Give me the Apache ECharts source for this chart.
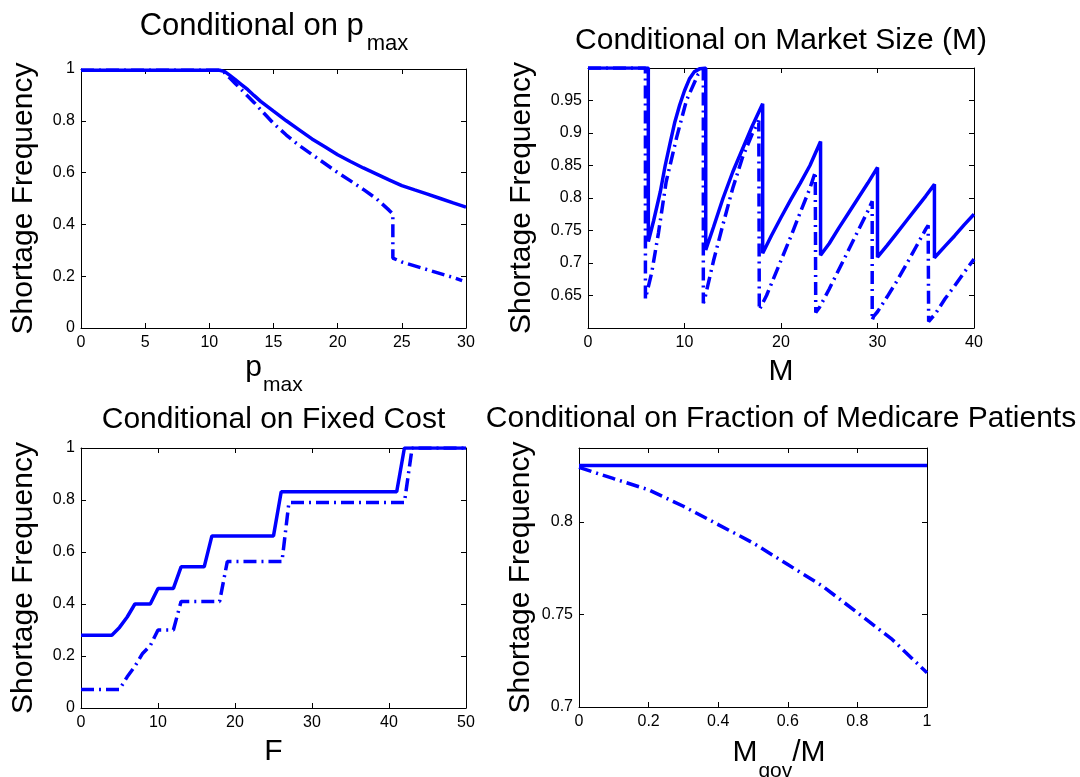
<!DOCTYPE html>
<html><head><meta charset="utf-8">
<script src="https://cdn.jsdelivr.net/npm/echarts@6/dist/echarts.min.js"></script>
<style>html,body{margin:0;padding:0;background:#fff}#c{width:1080px;height:777px}</style>
</head><body><div id="c"></div>
<script>
// ---- Panel 1: Conditional on p_max ----
const pmaxSolidX = [0, 2, 4, 6, 8, 10, 10.8, 11.2, 11.6, 12, 12.5, 13, 13.5, 14, 15, 16, 17, 18, 19, 20, 21, 22, 23, 24, 25, 26, 27, 28, 29, 30];
const pmaxSolidY = [0.995, 0.995, 0.995, 0.995, 0.995, 0.995, 0.995, 0.99, 0.975, 0.96, 0.94, 0.92, 0.897, 0.875, 0.837, 0.80, 0.765, 0.73, 0.70, 0.669, 0.643, 0.618, 0.595, 0.572, 0.55, 0.533, 0.517, 0.50, 0.483, 0.467];
const pmaxDashX = [0, 2, 4, 6, 8, 10, 10.8, 11.2, 11.6, 12, 12.5, 13, 13.5, 14, 15, 16, 17, 18, 19, 20, 21, 22, 23, 24, 24.3, 24.3, 25, 26, 27, 28, 29, 29.7];
const pmaxDashY = [0.995, 0.995, 0.995, 0.995, 0.995, 0.995, 0.995, 0.985, 0.965, 0.945, 0.92, 0.895, 0.87, 0.843, 0.79, 0.745, 0.705, 0.67, 0.635, 0.60, 0.568, 0.535, 0.50, 0.455, 0.44, 0.27, 0.255, 0.24, 0.225, 0.21, 0.195, 0.183];

// ---- Panel 2: Conditional on Market Size (M) ----
const mSolidX = [0, 6.25, 6.25, 6.8, 7.5, 8, 8.5, 9, 9.5, 10, 10.5, 11, 11.6, 12.2, 12.2, 13, 14, 15, 16, 17, 18.1, 18.1, 19, 20, 21, 22, 23, 24.1, 24.1, 25, 26, 27, 28, 29, 30, 30, 31, 32, 33, 34, 35, 35.9, 35.9, 37, 38, 39, 40];
const mSolidY = [1, 1, 0.733, 0.765, 0.81, 0.85, 0.884, 0.917, 0.943, 0.965, 0.983, 0.994, 0.999, 1.0, 0.72, 0.755, 0.80, 0.84, 0.875, 0.91, 0.945, 0.715, 0.742, 0.77, 0.797, 0.823, 0.85, 0.887, 0.712, 0.73, 0.754, 0.777, 0.80, 0.823, 0.847, 0.709, 0.727, 0.746, 0.765, 0.784, 0.803, 0.821, 0.708, 0.726, 0.742, 0.759, 0.775];
const mDashX = [0, 5.95, 5.95, 6.6, 7.3, 8.1, 9.2, 10.2, 11.4, 11.95, 11.95, 12.1, 13, 14, 15, 16, 17, 17.7, 17.75, 18.5, 19, 20, 21, 22, 23, 23.55, 23.6, 24, 25, 26, 27, 28, 29, 29.45, 29.45, 29.6, 30, 31, 32, 33, 34, 35, 35.25, 35.3, 36, 37, 38, 39, 40];
const mDashY = [1, 1, 0.645, 0.685, 0.746, 0.825, 0.894, 0.95, 0.99, 0.998, 0.638, 0.645, 0.703, 0.76, 0.815, 0.862, 0.898, 0.919, 0.628, 0.65, 0.668, 0.704, 0.74, 0.778, 0.815, 0.84, 0.624, 0.632, 0.66, 0.69, 0.72, 0.75, 0.78, 0.795, 0.612, 0.618, 0.625, 0.648, 0.672, 0.698, 0.725, 0.752, 0.758, 0.61, 0.622, 0.645, 0.665, 0.686, 0.706];

// ---- Panel 3: Conditional on Fixed Cost ----
const fSolidX = [0, 4, 5, 6, 7, 9, 10, 12, 13, 16, 17, 25, 26, 41, 42, 50];
const fSolidY = [0.28, 0.28, 0.31, 0.35, 0.40, 0.40, 0.46, 0.46, 0.543, 0.543, 0.662, 0.662, 0.832, 0.832, 1, 1];
const fDashX = [0, 5, 6, 7, 8, 9, 10, 12, 13, 18, 19, 26.1, 27, 42, 43, 50];
const fDashY = [0.071, 0.071, 0.12, 0.16, 0.21, 0.24, 0.30, 0.30, 0.41, 0.41, 0.563, 0.563, 0.79, 0.79, 1, 1];

// ---- Panel 4: Conditional on Fraction of Medicare Patients ----
const gX = [0, 0.1, 0.2, 0.3, 0.4, 0.5, 0.6, 0.7, 0.8, 0.9, 1];
const gSolidY = [0.8305, 0.8305, 0.8305, 0.8305, 0.8305, 0.8305, 0.8305, 0.8305, 0.8305, 0.8305, 0.8305];
const gDashY = [0.8295, 0.8234, 0.8174, 0.8085, 0.7986, 0.7887, 0.777, 0.7653, 0.751, 0.7365, 0.7185];

const titles = ['Conditional on p', 'Conditional on Market Size (M)', 'Conditional on Fixed Cost', 'Conditional on Fraction of Medicare Patients'];
const yName = 'Shortage Frequency';

const FONT = '"Liberation Sans", Arial, Helvetica, sans-serif';
const BLUE = '#0000ff';
const zip = (xs, ys) => xs.map((x, i) => [x, ys[i]]);

const grids = [
  {left: 81, top: 69, width: 385, height: 259},
  {left: 588, top: 68, width: 386, height: 260},
  {left: 81, top: 448, width: 385, height: 260},
  {left: 579, top: 448, width: 348, height: 259}
];
const xs = [[0, 30, 5], [0, 40, 10], [0, 50, 10], [0, 1, 0.2]];
const ys = [[0, 1, 0.2], [0.6, 1.0, 0.05], [0, 1, 0.2], [0.7, 0.84, 0.05]];
const yHideEnds = [[false, false], [true, true], [false, false], [false, true]];
const yGap = [42, 51, 42, 43];

const xAxis = [], yAxis = [];
grids.forEach((g, i) => {
  const base = {
    type: 'value', gridIndex: i, min: xs[i][0], max: xs[i][1], interval: xs[i][2],
    axisLine: {show: true, onZero: false, lineStyle: {color: '#000', width: 1}},
    axisTick: {show: true, inside: true, length: 5, lineStyle: {color: '#000', width: 1}},
    splitLine: {show: false}
  };
  xAxis.push(Object.assign({}, base, {position: 'bottom',
    axisLabel: {show: true, color: '#000', fontSize: 16, fontFamily: FONT, margin: 7}}));
  xAxis.push(Object.assign({}, base, {position: 'top', axisLabel: {show: false}}));
  const ybase = {
    type: 'value', gridIndex: i, min: ys[i][0], max: ys[i][1], interval: ys[i][2],
    axisLine: {show: true, onZero: false, lineStyle: {color: '#000', width: 1}},
    axisTick: {show: true, inside: true, length: 5, lineStyle: {color: '#000', width: 1}},
    splitLine: {show: false}
  };
  yAxis.push(Object.assign({}, ybase, {position: 'left',
    name: yName, nameLocation: 'middle', nameGap: yGap[i],
    nameTextStyle: {color: '#000', fontSize: 30, fontFamily: FONT},
    axisLabel: {show: true, color: '#000', fontSize: 16, fontFamily: FONT, margin: 6,
      showMinLabel: !yHideEnds[i][0], showMaxLabel: !yHideEnds[i][1]}}));
  yAxis.push(Object.assign({}, ybase, {position: 'right', axisLabel: {show: false}}));
});

const solidStyle = {color: BLUE, width: 3.5, type: 'solid'};
const dashStyle = {color: BLUE, width: 3.5, type: [13, 5, 2, 5], cap: 'butt'};
const seriesData = [
  [zip(pmaxSolidX, pmaxSolidY), zip(pmaxDashX, pmaxDashY)],
  [zip(mSolidX, mSolidY), zip(mDashX, mDashY)],
  [zip(fSolidX, fSolidY), zip(fDashX, fDashY)],
  [zip(gX, gSolidY), zip(gX, gDashY)]
];
const series = [];
seriesData.forEach((pair, i) => {
  series.push({type: 'line', xAxisIndex: 2 * i, yAxisIndex: 2 * i, data: pair[1], showSymbol: false,
    symbol: 'none', lineStyle: dashStyle, animation: false, z: 2});
  series.push({type: 'line', xAxisIndex: 2 * i, yAxisIndex: 2 * i, data: pair[0], showSymbol: false,
    symbol: 'none', lineStyle: solidStyle, animation: false, z: 3});
});

// text measuring for titles / subscripted labels
const mctx = document.createElement('canvas').getContext('2d');
function tw(t, size) { mctx.font = size + 'px ' + FONT; return mctx.measureText(t).width; }
function txt(x, y, t, size) {
  return {type: 'text', x: x, y: y, silent: true,
    style: {text: t, fontSize: size, fontFamily: FONT, fill: '#000',
      align: 'left', textAlign: 'left', verticalAlign: 'middle', textVerticalAlign: 'middle'}};
}
// parts: [[text, size, baselineY, gapBefore]]
function composite(cx, parts) {
  let total = 0;
  parts.forEach(p => { total += (p[3] || 0) + tw(p[0], p[1]); });
  let x = cx - total / 2;
  const out = [];
  parts.forEach(p => {
    x += (p[3] || 0);
    out.push(txt(x, p[2] - 0.3465 * p[1], p[0], p[1]));
    x += tw(p[0], p[1]);
  });
  return out;
}
const graphic = [].concat(
  composite(274, [[titles[0], 31, 37.3], ['max', 22, 51.7, 3]]),
  composite(781, [[titles[1], 30, 50.7]]),
  composite(273.5, [[titles[2], 30, 430]]),
  composite(781, [[titles[3], 30, 429.5]]),
  composite(274, [['p', 30, 378], ['max', 21, 392, 1]]),
  composite(781, [['M', 30, 382]]),
  composite(273.5, [['F', 30, 762]]),
  composite(779, [['M', 30, 763.3], ['gov', 21, 778, 1], ['/M', 30, 763.3]])
);

const chart = echarts.init(document.getElementById('c'), null, {renderer: 'canvas'});
chart.setOption({
  animation: false,
  backgroundColor: '#fff',
  grid: grids.map(g => Object.assign({containLabel: false, show: false}, g)),
  xAxis: xAxis, yAxis: yAxis, series: series, graphic: graphic
});
</script>
</body></html>
